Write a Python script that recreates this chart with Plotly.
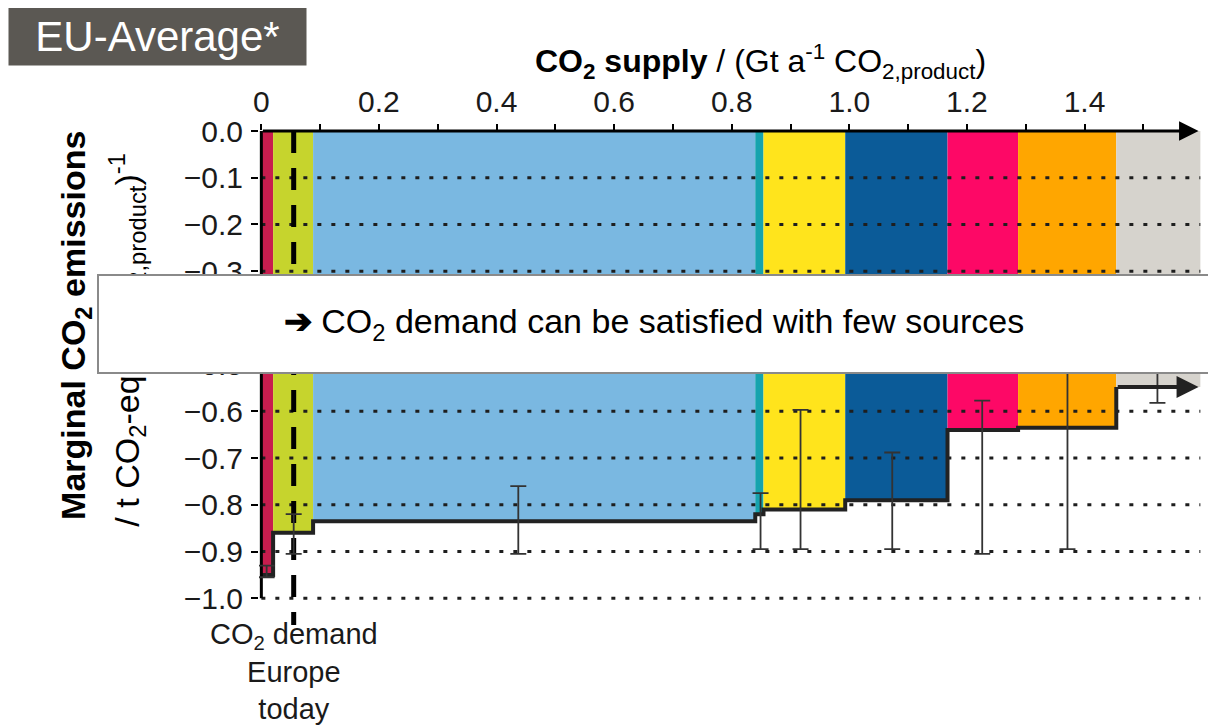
import plotly.graph_objects as go

# ---------------- data ----------------
bar_left  = [0.000, 0.020, 0.088, 0.840, 0.854, 0.993, 1.167, 1.287, 1.454]
bar_right = [0.020, 0.088, 0.840, 0.854, 0.993, 1.167, 1.287, 1.454, 1.597]
bar_value = [-0.950, -0.860, -0.835, -0.820, -0.810, -0.790, -0.640, -0.635, -0.548]
bar_color = ["#c81d4e", "#c6d42d", "#7ab8e1", "#16a3ae", "#ffe41c",
             "#0b5b98", "#fd0866", "#ffa600", "#d6d3cd"]

err_x    = [0.009, 0.055, 0.437, 0.849, 0.917, 1.073, 1.226, 1.371, 1.524]
err_high = [-0.930, -0.820, -0.760, -0.775, -0.597, -0.688, -0.577, -0.450, -0.450]
err_low  = [-0.955, -0.905, -0.905, -0.895, -0.895, -0.895, -0.905, -0.895, -0.582]

demand_x = 0.055
demand_y = [0.0, -1.057]

x_ticks = [0.0, 0.2, 0.4, 0.6, 0.8, 1.0, 1.2, 1.4]
x_tick_text = ["0", "0.2", "0.4", "0.6", "0.8", "1.0", "1.2", "1.4"]
x_minor_ticks = [0.1, 0.3, 0.5, 0.7, 0.9, 1.1, 1.3, 1.5]
y_ticks = [0.0, -0.1, -0.2, -0.3, -0.4, -0.5, -0.6, -0.7, -0.8, -0.9, -1.0]
y_tick_text = ["0.0", "\u22120.1", "\u22120.2", "\u22120.3", "\u22120.4", "\u22120.5",
               "\u22120.6", "\u22120.7", "\u22120.8", "\u22120.9", "\u22121.0"]
x_end = 1.594

FONT = "Liberation Sans, Arial, sans-serif"

fig = go.Figure()

# bars
fig.add_trace(go.Bar(
    x=[(l + r) / 2 for l, r in zip(bar_left, bar_right)],
    y=bar_value,
    width=[r - l for l, r in zip(bar_left, bar_right)],
    marker=dict(color=bar_color, line=dict(width=0)),
    showlegend=False, hoverinfo="skip"))

# dotted grid lines drawn over bars
gx, gy = [], []
for v in y_ticks[1:]:
    gx += [0.0, bar_right[-1], None]
    gy += [v, v, None]
fig.add_trace(go.Scatter(x=gx, y=gy, mode="lines",
                         line=dict(color="#1e1e1e", width=3, dash="4px,10px"),
                         showlegend=False, hoverinfo="skip"))

# demand dashed line
fig.add_trace(go.Scatter(x=[demand_x, demand_x], y=demand_y, mode="lines",
                         line=dict(color="black", width=5, dash="22px,15px"),
                         showlegend=False, hoverinfo="skip"))

# step outline (last segment drawn as arrow)
sx, sy = [], []
for l, r, v in zip(bar_left[:-1], bar_right[:-1], bar_value[:-1]):
    sx += [l, r]
    sy += [v, v]
sx.append(bar_left[-1])
sy.append(bar_value[-1])
fig.add_trace(go.Scatter(x=sx, y=sy, mode="lines",
                         line=dict(color="#222222", width=4),
                         showlegend=False, hoverinfo="skip"))

# y axis line
fig.add_trace(go.Scatter(x=[0, 0], y=[y_ticks[0], y_ticks[-1]], mode="lines",
                         line=dict(color="black", width=3),
                         showlegend=False, hoverinfo="skip"))

# error bars
fig.add_trace(go.Scatter(
    x=err_x, y=err_high, mode="markers",
    marker=dict(size=1, color="rgba(0,0,0,0)"),
    error_y=dict(type="data", symmetric=False,
                 array=[0] * len(err_x),
                 arrayminus=[h - l for h, l in zip(err_high, err_low)],
                 width=8, thickness=1.8, color="#333333"),
    showlegend=False, hoverinfo="skip"))

annotations = []
# top axis arrow
annotations.append(dict(x=x_end, y=0, ax=0, ay=0, xref="x", yref="y",
                        axref="x", ayref="y", text="", showarrow=True,
                        arrowhead=2, arrowsize=1.3, arrowwidth=3,
                        arrowcolor="black", standoff=0, startstandoff=0))
# last step arrow
annotations.append(dict(x=x_end, y=bar_value[-1], ax=bar_left[-1], ay=bar_value[-1],
                        xref="x", yref="y", axref="x", ayref="y", text="",
                        showarrow=True, arrowhead=2, arrowsize=1.1, arrowwidth=4,
                        arrowcolor="#222222", standoff=0, startstandoff=0))
# x axis title (top)
annotations.append(dict(
    x=0.528, y=1.14, xref="paper", yref="paper", showarrow=False,
    text="<b>CO<sub>2</sub> supply</b> / (Gt a<sup>-1</sup> CO<sub>2,product</sub>)",
    font=dict(family=FONT, size=32, color="black"), xanchor="center", yanchor="middle"))
# y axis title lines
annotations.append(dict(
    x=-0.194, y=0.612, xref="paper", yref="paper", showarrow=False, textangle=-90,
    text="<b>Marginal CO<sub>2</sub> emissions</b>",
    font=dict(family=FONT, size=34, color="black"), xanchor="center", yanchor="middle"))
annotations.append(dict(
    x=-0.14, y=0.583, xref="paper", yref="paper", showarrow=False, textangle=-90,
    text="/ t CO<sub>2</sub>-eq (t CO<sub>2,product</sub>)<sup>-1</sup>",
    font=dict(family=FONT, size=34, color="black"), xanchor="center", yanchor="middle"))
# demand text below
annotations.append(dict(
    x=demand_x, y=0.03, xref="x", yref="paper", showarrow=False,
    text="CO<sub>2</sub> demand<br>Europe<br>today",
    font=dict(family=FONT, size=29, color="#1a1a1a"), xanchor="center", yanchor="top",
    align="center"))
# title box
annotations.append(dict(
    x=-0.264, y=1.19, xref="paper", yref="paper", showarrow=False,
    text="EU-Average*", font=dict(family=FONT, size=42, color="white"),
    bgcolor="#5b5853", width=293, height=53, borderpad=2,
    xanchor="left", yanchor="middle", align="center"))
# message box (on top)
annotations.append(dict(
    x=0.4166, y=0.614, xref="paper", yref="paper", showarrow=False,
    text="<b>\u2794</b> CO<sub>2</sub> demand can be satisfied with few sources",
    font=dict(family=FONT, size=34, color="black"),
    bgcolor="white", bordercolor="#8a8a8a", borderwidth=2,
    width=1108, height=94, xanchor="center", yanchor="middle"))

# the page shows the figure with an 8px body offset, so the figure is sized to the visible area
fig.update_layout(
    width=1208, height=717,
    margin=dict(l=251, r=8, t=123, b=94),
    paper_bgcolor="white", plot_bgcolor="white",
    barmode="overlay",
    font=dict(family=FONT, size=30, color="#1a1a1a"),
    annotations=annotations,
    xaxis=dict(range=[-0.004, 1.61], side="top", tickvals=x_ticks, ticktext=x_tick_text,
               ticks="outside", ticklen=6, tickwidth=2, tickcolor="black",
               minor=dict(tickvals=x_minor_ticks, ticks="outside", ticklen=6,
                          tickwidth=2, tickcolor="black", showgrid=False),
               showgrid=False, zeroline=False, showline=False,
               tickfont=dict(family=FONT, size=30, color="#1a1a1a")),
    yaxis=dict(range=[-1.07, 0.0], tickvals=y_ticks, ticktext=y_tick_text,
               ticks="outside", ticklen=7, tickwidth=2, tickcolor="black",
               ticklabelstandoff=2,
               showgrid=False, zeroline=False, showline=False,
               tickfont=dict(family=FONT, size=30, color="#1a1a1a")),
)

fig.write_html("out.html")
